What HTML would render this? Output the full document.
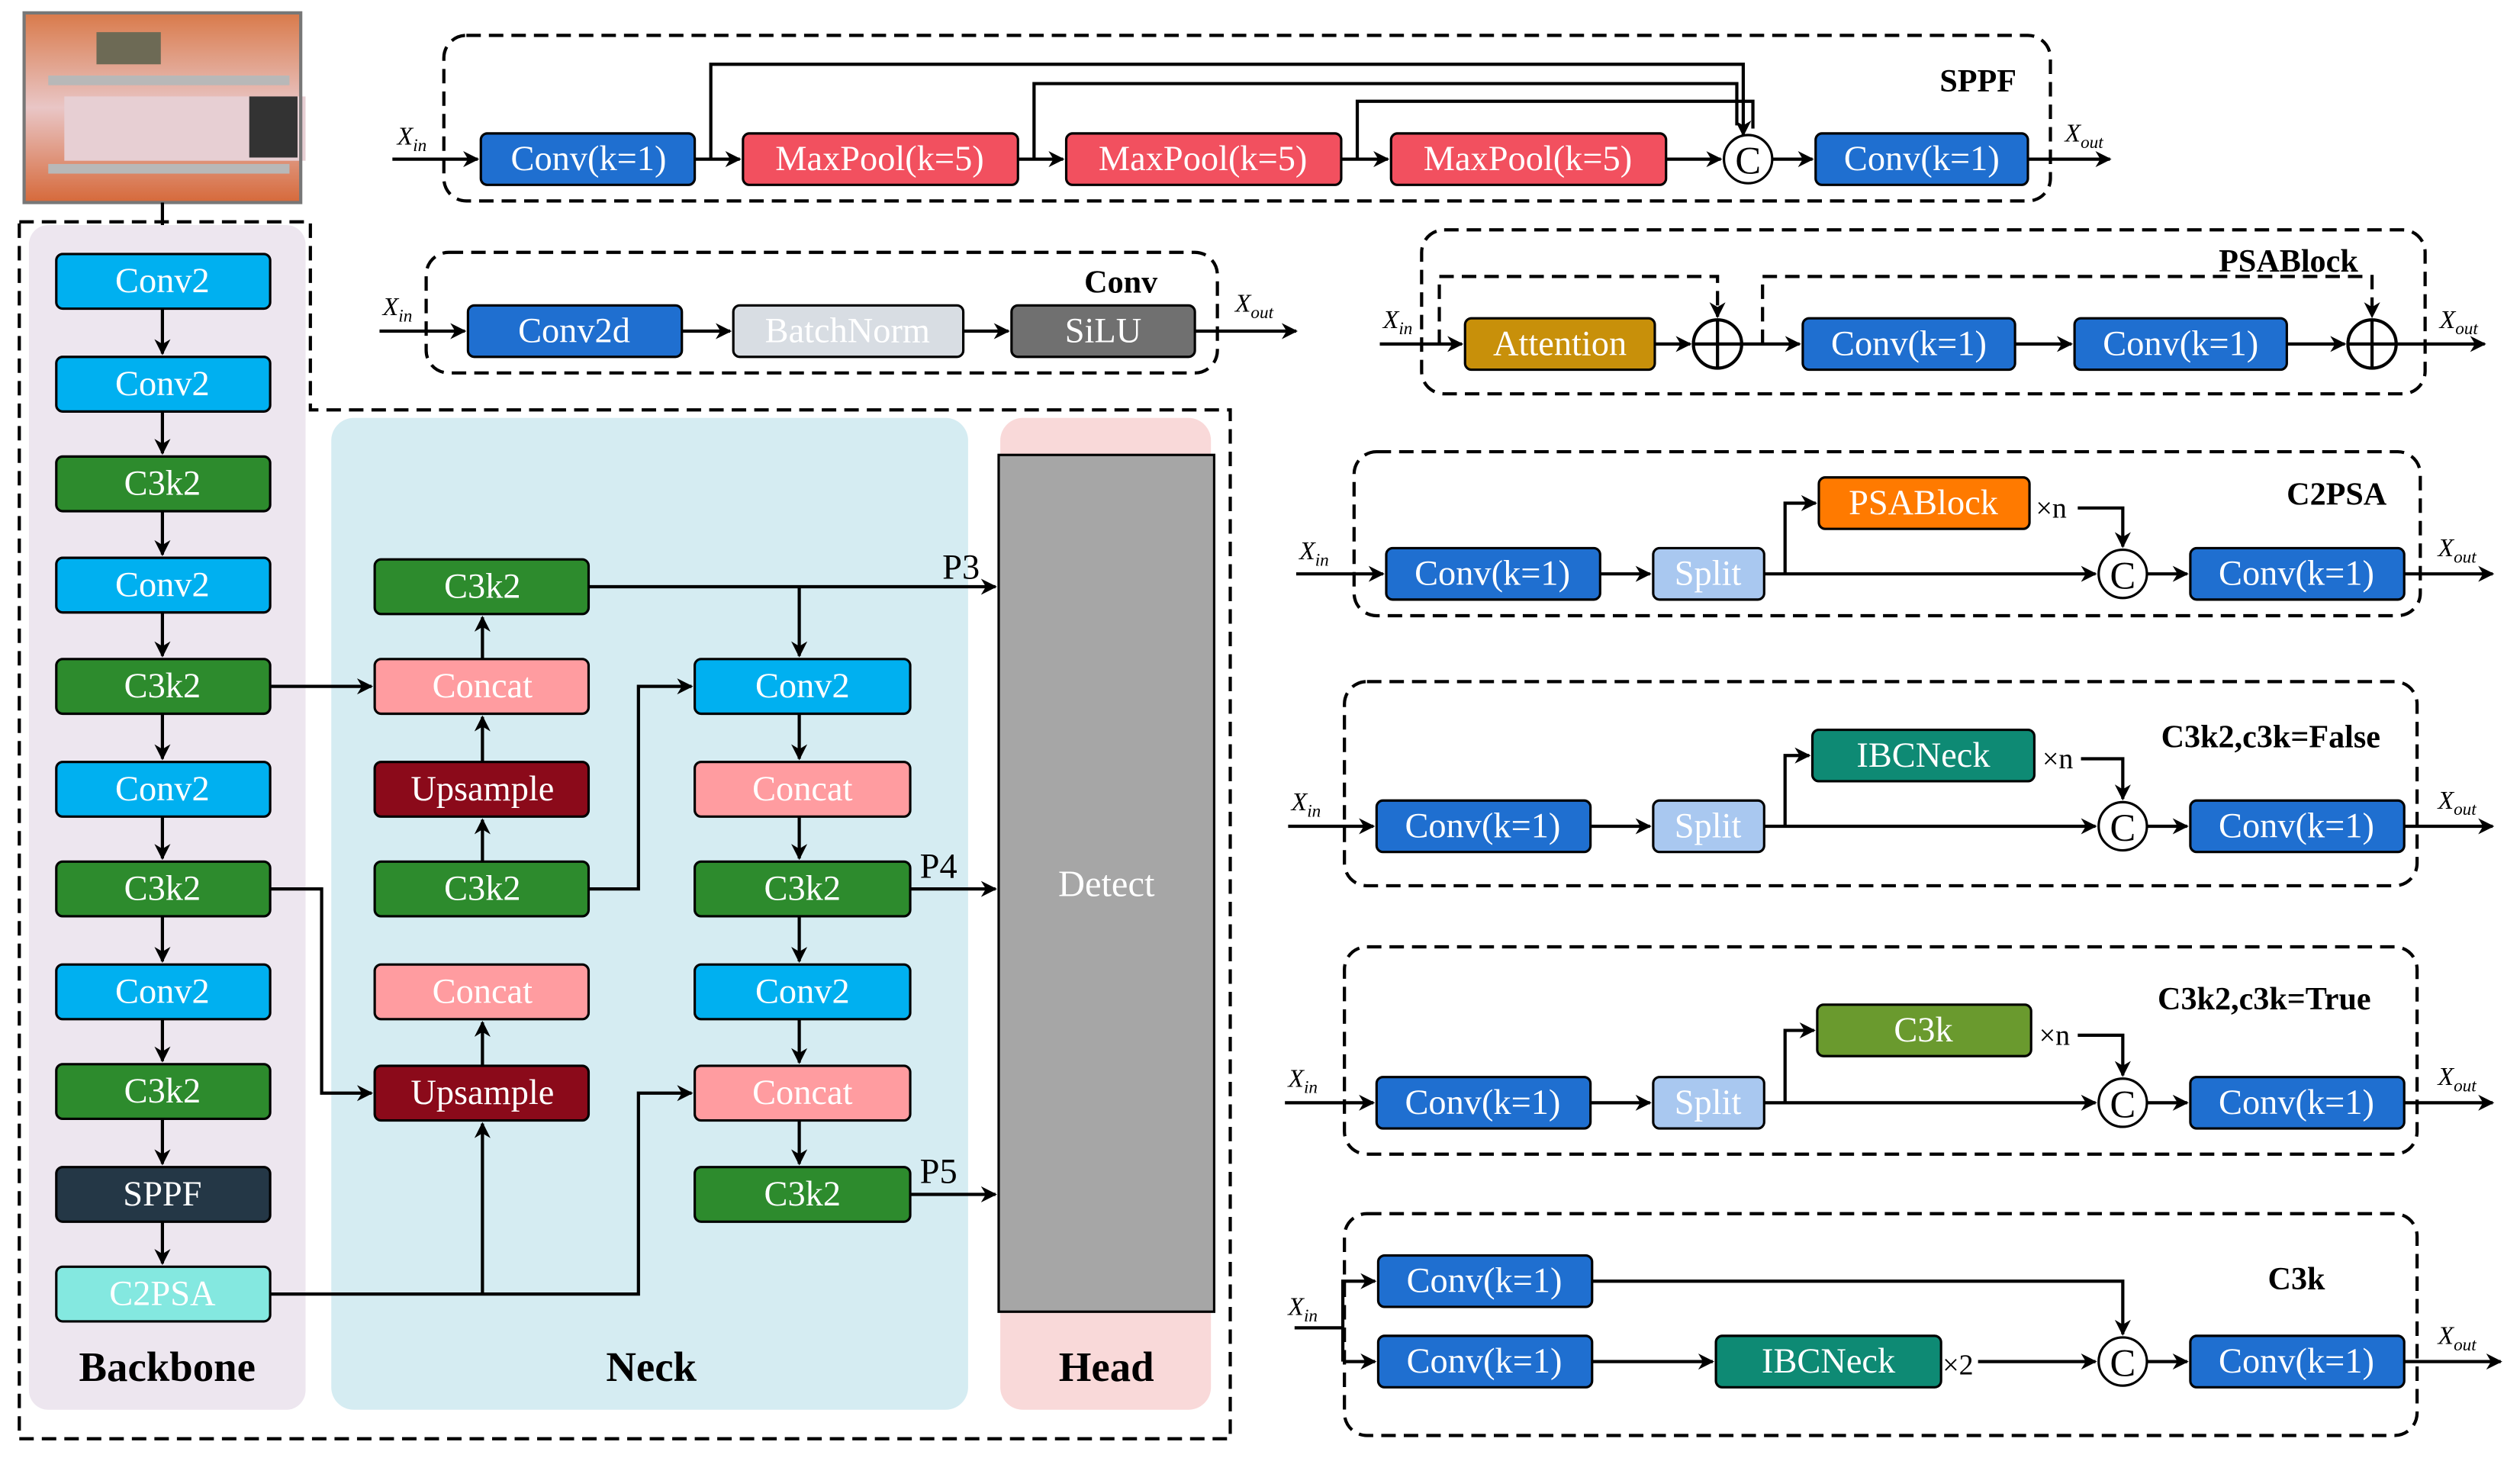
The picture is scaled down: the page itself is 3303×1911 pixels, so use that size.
<!DOCTYPE html>
<html><head><meta charset="utf-8"><style>
html,body{margin:0;padding:0;background:#fff}
svg{display:block}
text{font-family:"Liberation Serif",serif}
.b{font-size:22px;fill:#fff;text-anchor:middle;dominant-baseline:central}
.lb{font-size:26px;font-weight:bold;fill:#000;text-anchor:middle}
.tl{font-size:20px;font-weight:bold;fill:#000;text-anchor:middle}
.x{font-size:16px;font-style:italic;fill:#000}
.s{font-size:11px;font-style:italic}
.ln{stroke:#000;stroke-width:2;fill:none}
.da{stroke:#000;stroke-width:2;fill:none;stroke-dasharray:9,5}
.r{stroke:#000;stroke-width:1.5}
</style></head><body>
<svg width="3303" height="1911" viewBox="0 0 1567 907" preserveAspectRatio="none" xmlns="http://www.w3.org/2000/svg">
<defs>
<marker id="a" markerWidth="10" markerHeight="10" refX="9" refY="5" orient="auto" markerUnits="userSpaceOnUse">
<path d="M0,0 L10,5 L0,10 L3,5 Z" fill="#000"/></marker>
<linearGradient id="pg" x1="0" y1="0" x2="0" y2="1"><stop offset="0" stop-color="#d97a4a"/><stop offset="0.5" stop-color="#e9c6c6"/><stop offset="1" stop-color="#d6693a"/></linearGradient>
</defs>

<!-- photo -->
<rect x="15" y="8" width="172" height="118" fill="url(#pg)"/>
<rect x="60" y="20" width="40" height="20" fill="#6d6a55"/>
<rect x="40" y="60" width="150" height="40" fill="#e7cfd3"/>
<rect x="30" y="47" width="150" height="6" fill="#b8b8b8"/>
<rect x="30" y="102" width="150" height="6" fill="#b8b8b8"/>
<rect x="155" y="60" width="30" height="38" fill="#333"/>
<rect x="15" y="8" width="172" height="118" fill="none" stroke="#777" stroke-width="2"/>
<line class="ln" x1="101" y1="126" x2="101" y2="157" marker-end="url(#a)"/>

<!-- backgrounds -->
<rect x="18" y="140" width="172" height="737" rx="12" fill="#ede6ef"/>
<rect x="206" y="260" width="396" height="617" rx="14" fill="#d5ecf2"/>
<rect x="622" y="260" width="131" height="617" rx="14" fill="#f9d9d9"/>
<path class="da" d="M12,138 H193 V255 H765 V895 H12 Z"/>
<rect x="621" y="283" width="134" height="533" fill="#a6a6a6" class="r"/>
<text class="b" x="688" y="550" style="font-size:23px">Detect</text>
<text class="lb" x="104" y="859">Backbone</text>
<text class="lb" x="405" y="859">Neck</text>
<text class="lb" x="688" y="859">Head</text>

<!-- backbone -->
<g>
<rect class="r" x="35" y="158" width="133" height="34" rx="4" fill="#00b0f0"/><text class="b" x="101" y="175">Conv2</text>
<rect class="r" x="35" y="222" width="133" height="34" rx="4" fill="#00b0f0"/><text class="b" x="101" y="239">Conv2</text>
<rect class="r" x="35" y="284" width="133" height="34" rx="4" fill="#2d8b2d"/><text class="b" x="101" y="301">C3k2</text>
<rect class="r" x="35" y="347" width="133" height="34" rx="4" fill="#00b0f0"/><text class="b" x="101" y="364">Conv2</text>
<rect class="r" x="35" y="410" width="133" height="34" rx="4" fill="#2d8b2d"/><text class="b" x="101" y="427">C3k2</text>
<rect class="r" x="35" y="474" width="133" height="34" rx="4" fill="#00b0f0"/><text class="b" x="101" y="491">Conv2</text>
<rect class="r" x="35" y="536" width="133" height="34" rx="4" fill="#2d8b2d"/><text class="b" x="101" y="553">C3k2</text>
<rect class="r" x="35" y="600" width="133" height="34" rx="4" fill="#00b0f0"/><text class="b" x="101" y="617">Conv2</text>
<rect class="r" x="35" y="662" width="133" height="34" rx="4" fill="#2d8b2d"/><text class="b" x="101" y="679">C3k2</text>
<rect class="r" x="35" y="726" width="133" height="34" rx="4" fill="#243746"/><text class="b" x="101" y="743">SPPF</text>
<rect class="r" x="35" y="788" width="133" height="34" rx="4" fill="#84e8e0"/><text class="b" x="101" y="805">C2PSA</text>
</g>
<g class="ln">
<line class="ln" x1="101" y1="192" x2="101" y2="220" marker-end="url(#a)"/>
<line class="ln" x1="101" y1="256" x2="101" y2="282" marker-end="url(#a)"/>
<line class="ln" x1="101" y1="318" x2="101" y2="345" marker-end="url(#a)"/>
<line class="ln" x1="101" y1="381" x2="101" y2="408" marker-end="url(#a)"/>
<line class="ln" x1="101" y1="444" x2="101" y2="472" marker-end="url(#a)"/>
<line class="ln" x1="101" y1="508" x2="101" y2="534" marker-end="url(#a)"/>
<line class="ln" x1="101" y1="570" x2="101" y2="598" marker-end="url(#a)"/>
<line class="ln" x1="101" y1="634" x2="101" y2="660" marker-end="url(#a)"/>
<line class="ln" x1="101" y1="696" x2="101" y2="724" marker-end="url(#a)"/>
<line class="ln" x1="101" y1="760" x2="101" y2="786" marker-end="url(#a)"/>
</g>

<!-- neck col1 -->
<rect class="r" x="233" y="348" width="133" height="34" rx="4" fill="#2d8b2d"/><text class="b" x="300" y="365">C3k2</text>
<rect class="r" x="233" y="410" width="133" height="34" rx="4" fill="#ff9ca0"/><text class="b" x="300" y="427">Concat</text>
<rect class="r" x="233" y="474" width="133" height="34" rx="4" fill="#8b0a1a"/><text class="b" x="300" y="491">Upsample</text>
<rect class="r" x="233" y="536" width="133" height="34" rx="4" fill="#2d8b2d"/><text class="b" x="300" y="553">C3k2</text>
<rect class="r" x="233" y="600" width="133" height="34" rx="4" fill="#ff9ca0"/><text class="b" x="300" y="617">Concat</text>
<rect class="r" x="233" y="663" width="133" height="34" rx="4" fill="#8b0a1a"/><text class="b" x="300" y="680">Upsample</text>
<!-- neck col2 -->
<rect class="r" x="432" y="410" width="134" height="34" rx="4" fill="#00b0f0"/><text class="b" x="499" y="427">Conv2</text>
<rect class="r" x="432" y="474" width="134" height="34" rx="4" fill="#ff9ca0"/><text class="b" x="499" y="491">Concat</text>
<rect class="r" x="432" y="536" width="134" height="34" rx="4" fill="#2d8b2d"/><text class="b" x="499" y="553">C3k2</text>
<rect class="r" x="432" y="600" width="134" height="34" rx="4" fill="#00b0f0"/><text class="b" x="499" y="617">Conv2</text>
<rect class="r" x="432" y="663" width="134" height="34" rx="4" fill="#ff9ca0"/><text class="b" x="499" y="680">Concat</text>
<rect class="r" x="432" y="726" width="134" height="34" rx="4" fill="#2d8b2d"/><text class="b" x="499" y="743">C3k2</text>

<line class="ln" x1="168" y1="427" x2="231" y2="427" marker-end="url(#a)"/>
<path class="ln" d="M168,553 H200 V680 H231" marker-end="url(#a)"/>
<path class="ln" d="M168,805 H397 V680 H430" marker-end="url(#a)"/>
<line class="ln" x1="300" y1="805" x2="300" y2="699" marker-end="url(#a)"/>
<line class="ln" x1="300" y1="663" x2="300" y2="636" marker-end="url(#a)"/>
<line class="ln" x1="300" y1="536" x2="300" y2="510" marker-end="url(#a)"/>
<line class="ln" x1="300" y1="474" x2="300" y2="446" marker-end="url(#a)"/>
<line class="ln" x1="300" y1="410" x2="300" y2="384" marker-end="url(#a)"/>
<path class="ln" d="M366,553 H397 V427 H430" marker-end="url(#a)"/>
<line class="ln" x1="366" y1="365" x2="619" y2="365" marker-end="url(#a)"/>
<line class="ln" x1="497" y1="365" x2="497" y2="408" marker-end="url(#a)"/>
<line class="ln" x1="497" y1="444" x2="497" y2="472" marker-end="url(#a)"/>
<line class="ln" x1="497" y1="508" x2="497" y2="534" marker-end="url(#a)"/>
<line class="ln" x1="497" y1="570" x2="497" y2="598" marker-end="url(#a)"/>
<line class="ln" x1="497" y1="634" x2="497" y2="661" marker-end="url(#a)"/>
<line class="ln" x1="497" y1="697" x2="497" y2="724" marker-end="url(#a)"/>
<line class="ln" x1="566" y1="553" x2="619" y2="553" marker-end="url(#a)"/>
<line class="ln" x1="566" y1="743" x2="619" y2="743" marker-end="url(#a)"/>
<text x="586" y="360" style="font-size:22px">P3</text>
<text x="572" y="546" style="font-size:22px">P4</text>
<text x="572" y="736" style="font-size:22px">P5</text>

<!-- SPPF -->
<rect class="da" x="276" y="22" width="999" height="103" rx="14"/>
<text class="tl" x="1230" y="57">SPPF</text>
<text class="x" x="247" y="90">X<tspan class="s" dy="4">in</tspan></text>
<text class="x" x="1284" y="88">X<tspan class="s" dy="4">out</tspan></text>
<line class="ln" x1="244" y1="99" x2="297" y2="99" marker-end="url(#a)"/>
<rect class="r" x="299" y="83" width="133" height="32" rx="4" fill="#1f6fd0"/><text class="b" x="366" y="99">Conv(k=1)</text>
<rect class="r" x="462" y="83" width="171" height="32" rx="4" fill="#f2505f"/><text class="b" x="547" y="99">MaxPool(k=5)</text>
<rect class="r" x="663" y="83" width="171" height="32" rx="4" fill="#f2505f"/><text class="b" x="748" y="99">MaxPool(k=5)</text>
<rect class="r" x="865" y="83" width="171" height="32" rx="4" fill="#f2505f"/><text class="b" x="950" y="99">MaxPool(k=5)</text>
<circle cx="1087" cy="99" r="15" fill="#fff" stroke="#000" stroke-width="1.5"/><text x="1087" y="100" style="font-size:24px;text-anchor:middle;dominant-baseline:central">C</text>
<rect class="r" x="1129" y="83" width="132" height="32" rx="4" fill="#1f6fd0"/><text class="b" x="1195" y="99">Conv(k=1)</text>
<line class="ln" x1="432" y1="99" x2="460" y2="99" marker-end="url(#a)"/>
<line class="ln" x1="633" y1="99" x2="661" y2="99" marker-end="url(#a)"/>
<line class="ln" x1="834" y1="99" x2="863" y2="99" marker-end="url(#a)"/>
<line class="ln" x1="1036" y1="99" x2="1070" y2="99" marker-end="url(#a)"/>
<line class="ln" x1="1102" y1="99" x2="1127" y2="99" marker-end="url(#a)"/>
<line class="ln" x1="1261" y1="99" x2="1312" y2="99" marker-end="url(#a)"/>
<path class="ln" d="M442,99 V40 H1084 V84" marker-end="url(#a)"/>
<path class="ln" d="M643,99 V52 H1080 V78"/>
<path class="ln" d="M844,99 V63 H1090 V80"/>

<!-- Conv -->
<rect class="da" x="265" y="157" width="492" height="75" rx="14"/>
<text class="tl" x="697" y="182">Conv</text>
<text class="x" x="238" y="196">X<tspan class="s" dy="4">in</tspan></text>
<text class="x" x="768" y="194">X<tspan class="s" dy="4">out</tspan></text>
<line class="ln" x1="236" y1="206" x2="289" y2="206" marker-end="url(#a)"/>
<rect class="r" x="291" y="190" width="133" height="32" rx="4" fill="#1f6fd0"/><text class="b" x="357" y="206">Conv2d</text>
<rect class="r" x="456" y="190" width="143" height="32" rx="4" fill="#d8dde3"/><text class="b" x="527" y="206">BatchNorm</text>
<rect class="r" x="629" y="190" width="114" height="32" rx="4" fill="#707070"/><text class="b" x="686" y="206">SiLU</text>
<line class="ln" x1="424" y1="206" x2="454" y2="206" marker-end="url(#a)"/>
<line class="ln" x1="599" y1="206" x2="627" y2="206" marker-end="url(#a)"/>
<line class="ln" x1="743" y1="206" x2="806" y2="206" marker-end="url(#a)"/>

<!-- PSABlock -->
<rect class="da" x="884" y="143" width="624" height="102" rx="14"/>
<text class="tl" x="1423" y="169">PSABlock</text>
<text class="x" x="860" y="204">X<tspan class="s" dy="4">in</tspan></text>
<text class="x" x="1517" y="204">X<tspan class="s" dy="4">out</tspan></text>
<line class="ln" x1="858" y1="214" x2="909" y2="214" marker-end="url(#a)"/>
<rect class="r" x="911" y="198" width="118" height="32" rx="4" fill="#c8900a"/><text class="b" x="970" y="214">Attention</text>
<circle cx="1068" cy="214" r="15" fill="#fff" stroke="#000" stroke-width="2"/><path class="ln" d="M1053,214 H1083 M1068,199 V229"/>
<rect class="r" x="1121" y="198" width="132" height="32" rx="4" fill="#1f6fd0"/><text class="b" x="1187" y="214">Conv(k=1)</text>
<rect class="r" x="1290" y="198" width="132" height="32" rx="4" fill="#1f6fd0"/><text class="b" x="1356" y="214">Conv(k=1)</text>
<circle cx="1475" cy="214" r="15" fill="#fff" stroke="#000" stroke-width="2"/><path class="ln" d="M1460,214 H1490 M1475,199 V229"/>
<line class="ln" x1="1029" y1="214" x2="1051" y2="214" marker-end="url(#a)"/>
<line class="ln" x1="1083" y1="214" x2="1119" y2="214" marker-end="url(#a)"/>
<line class="ln" x1="1253" y1="214" x2="1288" y2="214" marker-end="url(#a)"/>
<line class="ln" x1="1422" y1="214" x2="1458" y2="214" marker-end="url(#a)"/>
<line class="ln" x1="1490" y1="214" x2="1545" y2="214" marker-end="url(#a)"/>
<path class="da" d="M895,214 V172 H1068 V197" marker-end="url(#a)"/>
<path class="da" d="M1096,214 V172 H1475 V197" marker-end="url(#a)"/>

<!-- C2PSA -->
<rect class="da" x="842" y="281" width="663" height="102" rx="14"/>
<text class="tl" x="1453" y="314">C2PSA</text>
<text class="x" x="808" y="348">X<tspan class="s" dy="4">in</tspan></text>
<text class="x" x="1516" y="346">X<tspan class="s" dy="4">out</tspan></text>
<line class="ln" x1="806" y1="357" x2="860" y2="357" marker-end="url(#a)"/>
<rect class="r" x="862" y="341" width="133" height="32" rx="4" fill="#1f6fd0"/><text class="b" x="928" y="357">Conv(k=1)</text>
<rect class="r" x="1028" y="341" width="69" height="32" rx="4" fill="#a9c8f0"/><text class="b" x="1062" y="357">Split</text>
<rect class="r" x="1131" y="297" width="131" height="32" rx="4" fill="#ff7a00"/><text class="b" x="1196" y="313">PSABlock</text>
<text x="1266" y="322" style="font-size:18px">×n</text>
<circle cx="1320" cy="357" r="15" fill="#fff" stroke="#000" stroke-width="1.5"/><text x="1320" y="358" style="font-size:24px;text-anchor:middle;dominant-baseline:central">C</text>
<rect class="r" x="1362" y="341" width="133" height="32" rx="4" fill="#1f6fd0"/><text class="b" x="1428" y="357">Conv(k=1)</text>
<line class="ln" x1="995" y1="357" x2="1026" y2="357" marker-end="url(#a)"/>
<line class="ln" x1="1097" y1="357" x2="1303" y2="357" marker-end="url(#a)"/>
<path class="ln" d="M1110,357 V313 H1129" marker-end="url(#a)"/>
<path class="ln" d="M1292,316 H1320 V340" marker-end="url(#a)"/>
<line class="ln" x1="1335" y1="357" x2="1360" y2="357" marker-end="url(#a)"/>
<line class="ln" x1="1495" y1="357" x2="1550" y2="357" marker-end="url(#a)"/>

<!-- C3k2 False -->
<rect class="da" x="836" y="424" width="667" height="127" rx="14"/>
<text class="tl" x="1412" y="465">C3k2,c3k=False</text>
<text class="x" x="803" y="504">X<tspan class="s" dy="4">in</tspan></text>
<text class="x" x="1516" y="503">X<tspan class="s" dy="4">out</tspan></text>
<line class="ln" x1="801" y1="514" x2="854" y2="514" marker-end="url(#a)"/>
<rect class="r" x="856" y="498" width="133" height="32" rx="4" fill="#1f6fd0"/><text class="b" x="922" y="514">Conv(k=1)</text>
<rect class="r" x="1028" y="498" width="69" height="32" rx="4" fill="#a9c8f0"/><text class="b" x="1062" y="514">Split</text>
<rect class="r" x="1127" y="454" width="138" height="32" rx="4" fill="#0e8a74"/><text class="b" x="1196" y="470">IBCNeck</text>
<text x="1270" y="478" style="font-size:18px">×n</text>
<circle cx="1320" cy="514" r="15" fill="#fff" stroke="#000" stroke-width="1.5"/><text x="1320" y="515" style="font-size:24px;text-anchor:middle;dominant-baseline:central">C</text>
<rect class="r" x="1362" y="498" width="133" height="32" rx="4" fill="#1f6fd0"/><text class="b" x="1428" y="514">Conv(k=1)</text>
<line class="ln" x1="989" y1="514" x2="1026" y2="514" marker-end="url(#a)"/>
<line class="ln" x1="1097" y1="514" x2="1303" y2="514" marker-end="url(#a)"/>
<path class="ln" d="M1110,514 V470 H1125" marker-end="url(#a)"/>
<path class="ln" d="M1294,472 H1320 V497" marker-end="url(#a)"/>
<line class="ln" x1="1335" y1="514" x2="1360" y2="514" marker-end="url(#a)"/>
<line class="ln" x1="1495" y1="514" x2="1550" y2="514" marker-end="url(#a)"/>

<!-- C3k2 True -->
<rect class="da" x="836" y="589" width="667" height="129" rx="14"/>
<text class="tl" x="1408" y="628">C3k2,c3k=True</text>
<text class="x" x="801" y="676">X<tspan class="s" dy="4">in</tspan></text>
<text class="x" x="1516" y="675">X<tspan class="s" dy="4">out</tspan></text>
<line class="ln" x1="799" y1="686" x2="854" y2="686" marker-end="url(#a)"/>
<rect class="r" x="856" y="670" width="133" height="32" rx="4" fill="#1f6fd0"/><text class="b" x="922" y="686">Conv(k=1)</text>
<rect class="r" x="1028" y="670" width="69" height="32" rx="4" fill="#a9c8f0"/><text class="b" x="1062" y="686">Split</text>
<rect class="r" x="1130" y="625" width="133" height="32" rx="4" fill="#6a9a2e"/><text class="b" x="1196" y="641">C3k</text>
<text x="1268" y="650" style="font-size:18px">×n</text>
<circle cx="1320" cy="686" r="15" fill="#fff" stroke="#000" stroke-width="1.5"/><text x="1320" y="687" style="font-size:24px;text-anchor:middle;dominant-baseline:central">C</text>
<rect class="r" x="1362" y="670" width="133" height="32" rx="4" fill="#1f6fd0"/><text class="b" x="1428" y="686">Conv(k=1)</text>
<line class="ln" x1="989" y1="686" x2="1026" y2="686" marker-end="url(#a)"/>
<line class="ln" x1="1097" y1="686" x2="1303" y2="686" marker-end="url(#a)"/>
<path class="ln" d="M1110,686 V641 H1128" marker-end="url(#a)"/>
<path class="ln" d="M1292,644 H1320 V669" marker-end="url(#a)"/>
<line class="ln" x1="1335" y1="686" x2="1360" y2="686" marker-end="url(#a)"/>
<line class="ln" x1="1495" y1="686" x2="1550" y2="686" marker-end="url(#a)"/>

<!-- C3k -->
<rect class="da" x="836" y="755" width="667" height="138" rx="14"/>
<text class="tl" x="1428" y="802">C3k</text>
<text x="801" y="818" class="x">X<tspan class="s" dy="4">in</tspan></text>
<text class="x" x="1516" y="836">X<tspan class="s" dy="4">out</tspan></text>
<line class="ln" x1="805" y1="826" x2="835" y2="826"/>
<path class="ln" d="M835,847 V797 H855" marker-end="url(#a)"/>
<line class="ln" x1="835" y1="847" x2="855" y2="847" marker-end="url(#a)"/>
<rect class="r" x="857" y="781" width="133" height="32" rx="4" fill="#1f6fd0"/><text class="b" x="923" y="797">Conv(k=1)</text>
<rect class="r" x="857" y="831" width="133" height="32" rx="4" fill="#1f6fd0"/><text class="b" x="923" y="847">Conv(k=1)</text>
<rect class="r" x="1067" y="831" width="140" height="32" rx="4" fill="#0e8a74"/><text class="b" x="1137" y="847">IBCNeck</text>
<text x="1208" y="855" style="font-size:18px">×2</text>
<circle cx="1320" cy="847" r="15" fill="#fff" stroke="#000" stroke-width="1.5"/><text x="1320" y="848" style="font-size:24px;text-anchor:middle;dominant-baseline:central">C</text>
<rect class="r" x="1362" y="831" width="133" height="32" rx="4" fill="#1f6fd0"/><text class="b" x="1428" y="847">Conv(k=1)</text>
<path class="ln" d="M990,797 H1320 V830" marker-end="url(#a)"/>
<line class="ln" x1="990" y1="847" x2="1065" y2="847" marker-end="url(#a)"/>
<line class="ln" x1="1230" y1="847" x2="1303" y2="847" marker-end="url(#a)"/>
<line class="ln" x1="1335" y1="847" x2="1360" y2="847" marker-end="url(#a)"/>
<line class="ln" x1="1495" y1="847" x2="1555" y2="847" marker-end="url(#a)"/>
</svg>
</body></html>
